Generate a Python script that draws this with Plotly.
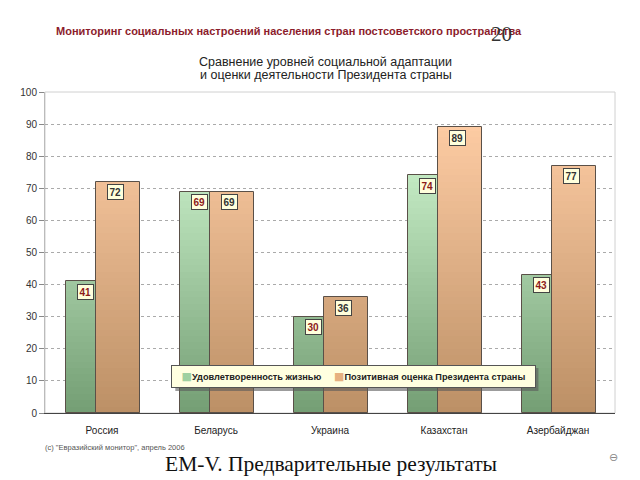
import plotly.graph_objects as go

countries = ["Россия", "Беларусь", "Украина", "Казахстан", "Азербайджан"]
satisfaction = [41, 69, 30, 74, 43]
president = [72, 69, 36, 89, 77]
series_names = ["Удовлетворенность жизнью", "Позитивная оценка Президента страны"]
y_ticks = [0, 10, 20, 30, 40, 50, 60, 70, 80, 90, 100]

FONT = "Liberation Sans"
xs = list(range(len(countries)))
WIDTH = 0.385
OFF = [-0.315, -0.055]
GRAD = [((212, 250, 212), (116, 158, 116)), ((254, 204, 164), (188, 144, 102))]
LEGEND_COL = ["#9fd0a0", "#e6b080"]
LABEL_COL = ["#8b1a1a", "#333333"]

# the page body has an 8px margin: lay out in window pixels, shift by 8
OX = 8
W, H = 640 - OX, 480 - OX
L, R, T, B = 42 - OX, 25, 92 - OX, 67
PW, PH = W - L - R, H - T - B


def px_x(x):
    return (x - OX - L) / PW


def px_y(y):
    return (H - B - (y - OX)) / PH


fig = go.Figure()
STEP = 2.0
NSEG = int(100 / STEP)
for s, vals in enumerate([satisfaction, president]):
    top, bot = GRAD[s]
    for k in range(NSEG):
        base = k * STEP
        t = min(1.0, ((base + STEP / 2) / 100.0) / 0.9)
        c = tuple(int(bot[j] + (top[j] - bot[j]) * t) for j in range(3))
        h = [max(0.0, min(STEP, v - base)) for v in vals]
        fig.add_trace(go.Bar(
            x=xs, y=h, base=[base] * len(vals), width=WIDTH, offset=OFF[s],
            marker=dict(color="rgb(%d,%d,%d)" % c, line=dict(width=0)),
            showlegend=False, hoverinfo="skip"))
    fig.add_trace(go.Bar(
        x=xs, y=vals, width=WIDTH, offset=OFF[s], name=series_names[s],
        marker=dict(color="rgba(0,0,0,0)", line=dict(color="#5a5048", width=1)),
        showlegend=False))

annotations = []
for s, vals in enumerate([satisfaction, president]):
    for i, v in enumerate(vals):
        annotations.append(dict(
            x=i + OFF[s] + WIDTH / 2 - 0.02, y=v - 3.2, xref="x", yref="y",
            text="<b>%d</b>" % v, showarrow=False,
            font=dict(family=FONT, size=10, color=LABEL_COL[s]),
            bgcolor="#ffffdc", bordercolor="#444", borderwidth=1, borderpad=1.5))


def ppix(x, y, text, size, color, family=FONT, anchor="left", bold=False):
    return dict(x=px_x(x), y=px_y(y), xref="paper", yref="paper",
                text=("<b>%s</b>" % text) if bold else text, showarrow=False,
                xanchor=anchor, yanchor="middle",
                font=dict(family=family, size=size, color=color))


annotations += [
    ppix(51, 31, "Мониторинг социальных настроений населения стран постсоветского пространства",
         11, "#8c1c2c", bold=True),
    ppix(501, 34, "20", 21, "#333333", family="Liberation Serif", anchor="center"),
    ppix(324, 62, "Сравнение уровней социальной адаптации", 12.5, "#222222", anchor="center"),
    ppix(324, 75, "и оценки деятельности Президента страны", 12.5, "#222222", anchor="center"),
    ppix(40, 448, "(c) \"Евразийский монитор\", апрель 2006", 7.5, "#555555"),
    ppix(330, 464, "EM-V. Предварительные результаты", 21.5, "#111111",
         family="Liberation Serif", anchor="center"),
    ppix(613, 458, "⊖", 11, "#888888", family="DejaVu Sans", anchor="center"),
]

# legend box (drawn as an annotation so its compact layout matches)
SQ = "<span style='font-family:DejaVu Sans;font-size:11px;color:%s'>■</span>"
legend_text = (SQ + "<b>%s</b>     " + SQ + "<b>%s</b>") % (
    LEGEND_COL[0], series_names[0], LEGEND_COL[1], series_names[1])
LG = (170, 365, 535, 388)  # left, top, right, bottom in window px
annotations.append(dict(
    x=px_x((LG[0] + LG[2]) / 2), y=px_y((LG[1] + LG[3]) / 2), xref="paper", yref="paper",
    text=legend_text, showarrow=False, xanchor="center", yanchor="middle",
    font=dict(family=FONT, size=9.2, color="#222"),
    width=LG[2] - LG[0] - 6, height=LG[3] - LG[1] - 6,
    bgcolor="#ffffe0", bordercolor="#555", borderwidth=1, borderpad=2))

shapes = [
    dict(type="rect", xref="paper", yref="paper", x0=0, x1=1, y0=0, y1=1,
         line=dict(color="#d0d0d0", width=1), layer="below"),
    # legend shadow
    dict(type="rect", xref="paper", yref="paper",
         x0=px_x(LG[0] + 3), x1=px_x(LG[2] + 3), y0=px_y(LG[3] + 3), y1=px_y(LG[1] + 3),
         line=dict(width=0), fillcolor="rgba(90,90,90,0.6)", layer="above"),
]

fig.update_layout(
    width=W, height=H,
    margin=dict(l=L, r=R, t=T, b=B),
    paper_bgcolor="white", plot_bgcolor="white",
    barmode="overlay", bargap=0,
    font=dict(family=FONT, size=10, color="#333"),
    showlegend=False,
    annotations=annotations,
    shapes=shapes,
    xaxis=dict(tickmode="array", tickvals=xs, ticktext=countries, range=[-0.5, 4.5],
               showgrid=False, showline=True, linecolor="#444", linewidth=1,
               ticks="", tickfont=dict(family=FONT, size=10, color="#222"),
               ticklabelstandoff=8, zeroline=False),
    yaxis=dict(range=[0, 100], tickvals=y_ticks, showgrid=True, gridcolor="#aaaaaa",
               griddash="dot", gridwidth=1, showline=True, linecolor="#bbbbbb",
               ticks="outside", ticklen=5, tickcolor="#888",
               tickfont=dict(family=FONT, size=10, color="#333"), zeroline=False),
)

fig.write_html("out.html")
